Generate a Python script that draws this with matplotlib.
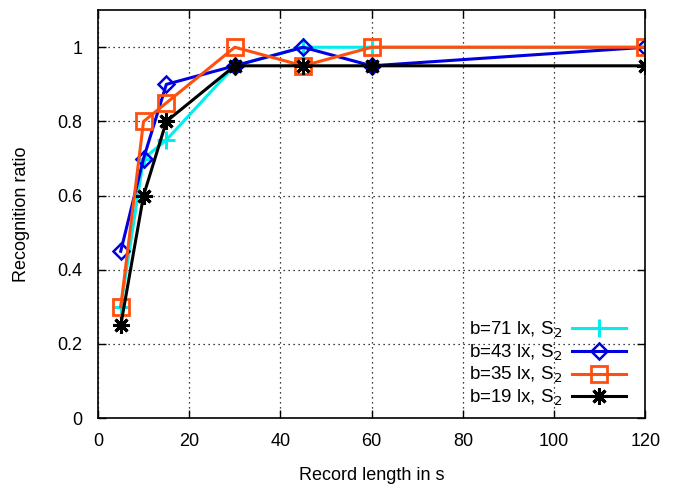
import matplotlib
matplotlib.use("Agg")
import matplotlib.pyplot as plt

plt.rcParams['font.family'] = ['Liberation Sans', 'DejaVu Sans']

record_length = [5, 10, 15, 30, 45, 60, 120]
ratio_b71 = [0.30, 0.70, 0.75, 0.95, 1.00, 1.00, 1.00]
ratio_b43 = [0.45, 0.70, 0.90, 0.95, 1.00, 0.95, 1.00]
ratio_b35 = [0.30, 0.80, 0.85, 1.00, 0.95, 1.00, 1.00]
ratio_b19 = [0.25, 0.60, 0.80, 0.95, 0.95, 0.95, 0.95]
series_labels = [r"b=71 lx, S$_2$", r"b=43 lx, S$_2$", r"b=35 lx, S$_2$", r"b=19 lx, S$_2$"]

fig = plt.figure(figsize=(6.8, 4.84), dpi=100)
ax = fig.add_axes([0.144, 0.136, 0.805, 0.843])

ax.plot(record_length, ratio_b71, color='#00eeee', lw=2.2, marker='+', ms=13, mew=2.2,
        label=series_labels[0])
ax.plot(record_length, ratio_b43, color='#0000e0', lw=2.2, marker='D', ms=8, mew=1.8,
        mfc='none', label=series_labels[1])
ax.plot(record_length, ratio_b35, color='#ff4f0f', lw=2.2, marker='s', ms=11, mew=2.0,
        mfc='none', label=series_labels[2])
ax.plot(record_length, ratio_b19, color='black', lw=2.2, marker=(8, 2, 0), ms=12, mew=2.2,
        label=series_labels[3])

ax.set_xlim(0, 120)
ax.set_ylim(0, 1.1)
ax.set_xticks(range(0, 121, 20))
ax.set_yticks([0, 0.2, 0.4, 0.6, 0.8, 1.0])
ax.set_yticklabels(['0', '0.2', '0.4', '0.6', '0.8', '1'])
ax.grid(True, color='black', linestyle=(0, (1, 3)), linewidth=0.9)
ax.tick_params(direction='in', top=True, right=True, length=6, width=1, labelsize=13,
               pad=11)
for s in ax.spines.values():
    s.set_linewidth(1.2)

ax.set_xlabel("Record length in s", fontsize=13, labelpad=12)
ax.set_ylabel("Recognition ratio", fontsize=13, labelpad=20)

leg = ax.legend(loc='lower right', frameon=False, markerfirst=False, fontsize=13.5,
                handlelength=2.9, handletextpad=0.5, labelspacing=0.12,
                borderaxespad=0.0, borderpad=0.0, bbox_to_anchor=(0.965, 0.025))

fig.savefig("out.png", dpi=100)
